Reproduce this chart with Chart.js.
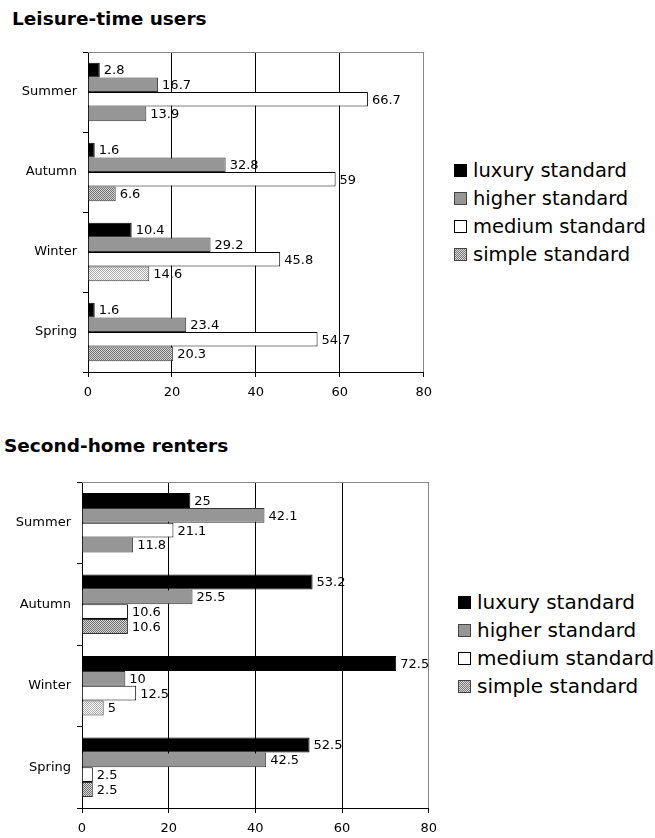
<!DOCTYPE html>
<html>
<head>
<meta charset="utf-8">
<script src="https://cdn.jsdelivr.net/npm/chart.js@4/dist/chart.umd.min.js"></script>
<style>
  html, body { margin: 0; padding: 0; background: #fff; }
  body { width: 655px; height: 838px; position: relative; overflow: hidden; font-family: "DejaVu Sans", Verdana, sans-serif; color: #000; }
  .title { position: absolute; font-weight: bold; font-size: 18.5px; line-height: 18px; white-space: nowrap; }
  canvas { position: absolute; left: 0; }
  .legend { position: absolute; }
  .legend .row { display: flex; align-items: center; height: 28px; white-space: nowrap; }
  .legend .sw { width: 13px; height: 13px; box-sizing: border-box; border: 1px solid #000; flex: none; }
  .sw.lux { background: #000; }
  .sw.hig { background: #969696; border-color: #444; }
  .sw.med { background: #fff; }
  .sw.sim { background: repeating-conic-gradient(#7a7a7a 0 25%, #d8d8d8 0 50%) 0 0 / 2px 2px; border-color: #444; }
</style>
</head>
<body>
<div class="title" style="left:12px; top:10px;">Leisure-time users</div>
<canvas id="c1" width="440" height="410" style="top:0px;"></canvas>
<div class="legend" id="lg1" style="left:454px; top:156px; font-size:19.5px;"></div>

<div class="title" style="left:4px; top:437px;">Second-home renters</div>
<canvas id="c2" width="445" height="418" style="top:420px;"></canvas>
<div class="legend" id="lg2" style="left:458px; top:588px; font-size:20px;"></div>

<script>
// Seasons, top to bottom
const seasons = ['Summer', 'Autumn', 'Winter', 'Spring'];
const seriesNames = ['luxury standard', 'higher standard', 'medium standard', 'simple standard'];
const xTicks = [0, 20, 40, 60, 80];

// Leisure-time users (%)
const leisureLuxury = [2.8, 1.6, 10.4, 1.6];
const leisureHigher = [16.7, 32.8, 29.2, 23.4];
const leisureMedium = [66.7, 59, 45.8, 54.7];
const leisureSimple = [13.9, 6.6, 14.6, 20.3];

// Second-home renters (%)
const rentersLuxury = [25, 53.2, 72.5, 52.5];
const rentersHigher = [42.1, 25.5, 10, 42.5];
const rentersMedium = [21.1, 10.6, 12.5, 2.5];
const rentersSimple = [11.8, 10.6, 5, 2.5];

// 2x2 checker fills for the "simple standard" bars
function checker(a, b) {
  const c = document.createElement('canvas');
  c.width = 2; c.height = 2;
  const g = c.getContext('2d');
  g.fillStyle = a; g.fillRect(0, 0, 2, 2);
  g.fillStyle = b; g.fillRect(0, 0, 1, 1); g.fillRect(1, 1, 1, 1);
  return g.createPattern(c, 'repeat');
}
const darkChecker = checker('#d6d6d6', '#707070');
const lightChecker = checker('#ffffff', '#a8a8a8');
const simpleFills = ['#969696', darkChecker, lightChecker, darkChecker];

const FONT = '"DejaVu Sans", Verdana, sans-serif';

// Value labels at the end of each bar
const valueLabels = {
  id: 'valueLabels',
  afterDatasetsDraw(chart) {
    const ctx = chart.ctx;
    ctx.save();
    ctx.font = '13px ' + FONT;
    ctx.fillStyle = '#000';
    ctx.textAlign = 'left';
    ctx.textBaseline = 'middle';
    chart.data.datasets.forEach((ds, i) => {
      const meta = chart.getDatasetMeta(i);
      meta.data.forEach((el, j) => {
        ctx.fillText(String(ds.data[j]), el.x + 4, el.y + 1);
      });
    });
    ctx.restore();
  }
};

// Grey top edge of the plot frame
const topFrame = {
  id: 'topFrame',
  afterDraw(chart) {
    const a = chart.chartArea, ctx = chart.ctx;
    ctx.save();
    ctx.strokeStyle = '#888';
    ctx.lineWidth = 1;
    ctx.beginPath();
    ctx.moveTo(a.left, Math.round(a.top) + 0.5);
    ctx.lineTo(a.right + 0.5, Math.round(a.top) + 0.5);
    ctx.stroke();
    ctx.restore();
  }
};

function makeChart(id, lux, hig, med, sim, opts) {
  const ds = [
    { label: seriesNames[0], data: lux, backgroundColor: '#000', borderColor: '#000' },
    { label: seriesNames[1], data: hig, backgroundColor: '#969696', borderColor: '#333' },
    { label: seriesNames[2], data: med, backgroundColor: '#fff', borderColor: '#000' },
    { label: seriesNames[3], data: sim, backgroundColor: simpleFills, borderColor: '#333' }
  ].map(d => Object.assign(d, { borderWidth: 1, borderSkipped: 'start', categoryPercentage: 0.73, barPercentage: 1.0 }));

  return new Chart(document.getElementById(id), {
    type: 'bar',
    data: { labels: seasons, datasets: ds },
    plugins: [valueLabels, topFrame],
    options: {
      indexAxis: 'y',
      responsive: false,
      animation: false,
      devicePixelRatio: 1,
      layout: { padding: opts.padding },
      plugins: { legend: { display: false }, tooltip: { enabled: false }, title: { display: false } },
      scales: {
        x: {
          min: xTicks[0], max: xTicks[xTicks.length - 1],
          afterBuildTicks(scale) { scale.ticks = xTicks.map(v => ({ value: v })); },
          ticks: { color: '#000', font: { family: FONT, size: 13 }, padding: 8, maxRotation: 0 },
          grid: {
            color: c => (c.tick && c.tick.value === 80) ? '#888' : '#000',
            tickColor: '#000',
            tickLength: 5,
            lineWidth: 1
          },
          border: { color: '#000', width: 1 },
          afterFit(scale) { scale.height = 30; }
        },
        y: {
          ticks: { color: '#000', font: { family: FONT, size: 13 }, padding: 6 },
          grid: { offset: true, drawOnChartArea: false, color: '#000', tickLength: 5 },
          border: { color: '#000', width: 1 },
          afterFit(scale) { scale.width = opts.yWidth; }
        }
      }
    }
  });
}

makeChart('c1', leisureLuxury, leisureHigher, leisureMedium, leisureSimple,
  { padding: { top: 52, right: 13, bottom: 8, left: 0 }, yWidth: 88 });
makeChart('c2', rentersLuxury, rentersHigher, rentersMedium, rentersSimple,
  { padding: { top: 62, right: 15, bottom: 0, left: 0 }, yWidth: 82 });

// Legends
const swClasses = ['lux', 'hig', 'med', 'sim'];
['lg1', 'lg2'].forEach(id => {
  const el = document.getElementById(id);
  seriesNames.forEach((name, i) => {
    const row = document.createElement('div');
    row.className = 'row';
    const sw = document.createElement('span');
    sw.className = 'sw ' + swClasses[i];
    const tx = document.createElement('span');
    tx.textContent = name;
    tx.style.marginLeft = '6px';
    row.appendChild(sw); row.appendChild(tx);
    el.appendChild(row);
  });
});
</script>
</body>
</html>
